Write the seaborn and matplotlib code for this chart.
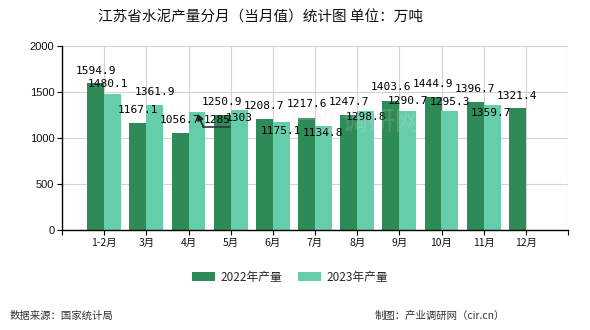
import numpy as np
import pandas as pd
import seaborn as sns
import matplotlib
matplotlib.use("Agg")
import matplotlib.pyplot as plt
from matplotlib.patches import Patch

# Monthly cement output in Jiangsu (10k tonnes)
months = ["1-2月", "3月", "4月", "5月", "6月", "7月", "8月", "9月", "10月", "11月", "12月"]
output_2022 = [1594.9, 1167.1, 1056.7, 1250.9, 1208.7, 1217.6, 1247.7, 1403.6, 1444.9, 1396.7, 1321.4]
output_2023 = [1480.1, 1361.9, 1285, 1303, 1175.1, 1134.8, 1298.8, 1290.7, 1295.3, 1359.7, None]
series_names = ["2022年产量", "2023年产量"]
yticks = [0, 500, 1000, 1500, 2000]

title = "江苏省水泥产量分月（当月值）统计图 单位：万吨"
source_text = "数据来源：国家统计局"
credit_text = "制图：产业调研网（cir.cn）"

colors = ["#2e8b57", "#66cdaa"]

sns.set_theme(style="white")
cjk = ["Noto Sans CJK SC", "DejaVu Sans"]
plt.rcParams["font.family"] = cjk

df = pd.DataFrame({
    "month": months * 2,
    "series": [series_names[0]] * len(months) + [series_names[1]] * len(months),
    "value": output_2022 + output_2023,
}).dropna()

W, H = 590, 330
fig = plt.figure(figsize=(W / 100, H / 100), dpi=100)
ax = fig.add_axes([62 / W, 1 - 230 / H, (568 - 62) / W, (230 - 46) / H])

sns.barplot(data=df, x="month", y="value", hue="series", order=months,
            hue_order=series_names, palette=colors, saturation=1,
            width=0.8, linewidth=0, ax=ax, legend=False, zorder=2)

ax.set_xlim(-1, len(months))
ax.set_ylim(0, 2000)
ax.set_xlabel("")
ax.set_ylabel("")

# grid lines at every category and value tick
xt = list(range(-1, len(months) + 1))
ax.set_xticks(xt)
ax.set_xticklabels([""] + months + [""], fontsize=7.5, family=cjk, color="#111111")
ax.set_yticks(yticks)
ax.set_yticklabels([str(v) for v in yticks], fontsize=8, family="Liberation Sans", color="#111111")
ax.grid(True, color="#d4d4d4", linewidth=0.8, zorder=0)
ax.set_axisbelow(True)
for side in ["top", "right"]:
    ax.spines[side].set_visible(False)
for side in ["left", "bottom"]:
    ax.spines[side].set_color("black")
    ax.spines[side].set_linewidth(1)
ax.tick_params(axis="both", which="both", direction="out", length=3.5, width=0.8,
               color="black", pad=2, left=True, bottom=True)

# value labels (offsets in pixels from bar top centre)
lab_font = dict(fontsize=8, family="DejaVu Sans Mono", color="black")
off22 = [12, 12.5, 13, 13, 13, 14, 13, 14, 13, 12.5, 12]
off23 = [(-5, 10), (0, 12.5), (20.5, -8), (0, -8), (0, -9), (0, -7), (0, -6.5),
         (0, 10), (0, 9), (-1, -8), (0, 0)]

for i, v in enumerate(output_2022):
    ax.annotate(f"{v:g}", xy=(i - 0.2, v), xytext=(0, off22[i]),
                textcoords="offset pixels", ha="center", va="center", zorder=5, **lab_font)
for i, v in enumerate(output_2023):
    if v is None:
        continue
    dx, dy = off23[i]
    ax.annotate(f"{v:g}", xy=(i + 0.2, v), xytext=(dx, dy),
                textcoords="offset pixels", ha="center", va="center", zorder=5, **lab_font)

# leader line for the displaced April label
fig.canvas.draw()
bx, by = 2 + 0.2, output_2023[2]
px, py = ax.transData.transform((bx, by))
inv = ax.transData.inverted()
corner = inv.transform((px + 6.5, py - 15))
end = inv.transform((px + 33.5, py - 15))
tip = inv.transform((px + 0.5, py - 2))
ax.plot([corner[0], end[0]], [corner[1], end[1]], color="#333333", lw=1.2, zorder=6)
ax.annotate("", xy=tip, xytext=corner, xycoords="data", textcoords="data",
            arrowprops=dict(arrowstyle="-|>", color="#222222", lw=1.2,
                            shrinkA=0, shrinkB=0, mutation_scale=9), zorder=6)

# faint watermark
fig.text(355 / W, 1 - 122 / H, "产业调研网", fontsize=19, color="#f6dede",
         alpha=0.18, ha="center", va="center", family=cjk, zorder=10)

fig.text(260 / W, 1 - 18 / H, title, fontsize=10.5, ha="center", va="center",
         family=cjk, color="#111111")

handles = [Patch(facecolor=c, edgecolor="none") for c in colors]
fig.legend(handles, series_names, loc="center", bbox_to_anchor=(290 / W, 1 - 277 / H),
           ncol=2, frameon=False, prop={"family": cjk, "size": 8.5},
           handlelength=1.9, handleheight=0.75, handletextpad=0.45, columnspacing=1.4)

fig.text(10 / W, 1 - 316 / H, source_text, fontsize=7.5, ha="left", va="center",
         family=cjk, color="#333333")
fig.text(505 / W, 1 - 316 / H, credit_text, fontsize=7.5, ha="right", va="center",
         family=cjk, color="#333333")

fig.savefig("out.png", dpi=100)
